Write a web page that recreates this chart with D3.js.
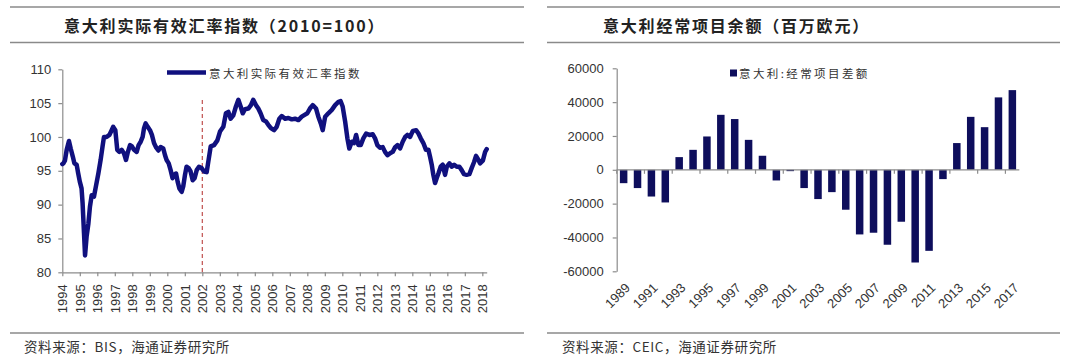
<!DOCTYPE html>
<html>
<head>
<meta charset="utf-8">
<script src="https://cdn.jsdelivr.net/npm/d3@7"></script>
<style>
  html, body { margin: 0; padding: 0; background: #fff; }
  svg { display: block; }
</style>
</head>
<body>
<svg id="chart" width="1080" height="356"></svg>
<script>
// ---------- Data ----------
const leftTitle = "意大利实际有效汇率指数（2010=100）";
const leftLegend = "意大利实际有效汇率指数";
const leftSource = "资料来源：BIS，海通证券研究所";
const rightTitle = "意大利经常项目余额（百万欧元）";
const rightLegend = "意大利:经常项目差额";
const rightSource = "资料来源：CEIC，海通证券研究所";

const reerDates = [
  1994.00,1994.06,1994.15,1994.25,1994.38,1994.48,1994.60,1994.69,1994.82,1994.91,
  1995.00,1995.10,1995.16,1995.24,1995.30,1995.39,1995.49,1995.58,1995.68,1995.81,1995.92,
  1996.06,1996.19,1996.30,1996.38,1996.53,1996.69,1996.82,1996.91,
  1997.03,1997.14,1997.26,1997.39,1997.52,1997.64,1997.75,1997.87,1997.98,
  1998.10,1998.25,1998.36,1998.48,1998.59,1998.67,1998.76,1998.88,
  1999.01,1999.12,1999.24,1999.35,1999.49,1999.62,1999.77,1999.87,1999.96,
  2000.08,2000.19,2000.30,2000.38,2000.50,2000.59,2000.69,2000.82,2000.91,
  2001.01,2001.10,2001.22,2001.33,2001.45,2001.56,2001.68,2001.81,2001.96,
  2002.10,2002.25,2002.34,2002.48,2002.67,2002.86,
  2003.01,2003.20,2003.35,2003.49,2003.62,2003.77,2003.92,
  2004.06,2004.19,2004.31,2004.44,2004.63,2004.78,2004.91,
  2005.07,2005.20,2005.33,2005.48,2005.64,2005.77,2005.92,
  2006.10,2006.25,2006.40,2006.54,2006.73,2006.92,
  2007.11,2007.30,2007.49,2007.68,2007.87,
  2008.00,2008.15,2008.31,2008.50,2008.63,2008.77,2008.88,
  2009.02,2009.20,2009.40,2009.59,2009.78,2009.90,
  2010.02,2010.16,2010.29,2010.40,2010.54,2010.67,2010.79,2010.92,
  2011.05,2011.20,2011.36,2011.55,2011.74,2011.87,
  2012.00,2012.15,2012.31,2012.44,2012.58,2012.73,2012.88,
  2013.02,2013.15,2013.30,2013.45,2013.59,2013.72,2013.87,
  2014.03,2014.22,2014.35,2014.48,2014.63,2014.78,2014.92,
  2015.01,2015.11,2015.20,2015.30,2015.39,2015.49,2015.62,2015.74,2015.87,2015.97,
  2016.12,2016.25,2016.39,2016.54,2016.69,2016.82,2016.95,
  2017.10,2017.26,2017.39,2017.53,2017.64,2017.78,2017.87,
  2018.03,2018.16,2018.25
];
const reerValues = [
  96.0,96.1,96.5,98.1,99.4,98.3,97.1,96.1,95.9,94.6,
  93.4,92.4,90.2,85.8,82.5,85.3,87.2,89.7,91.4,91.2,92.7,
  94.6,96.6,98.6,100.0,100.0,100.3,101.0,101.5,
  101.0,98.1,97.8,98.1,97.6,96.6,97.8,98.8,98.6,
  98.1,97.8,98.8,99.3,100.0,101.3,102.0,101.5,
  101.0,100.3,99.1,98.5,98.0,98.5,98.3,97.3,96.6,
  96.1,95.1,93.9,94.4,94.6,93.4,92.4,91.9,92.7,
  94.4,95.6,95.4,94.9,93.6,93.9,95.1,95.6,95.4,
  94.9,94.8,96.3,98.6,98.8,99.5,
  100.8,101.5,103.5,103.7,102.7,103.2,104.5,
  105.5,104.5,103.5,104.1,104.2,104.7,105.5,
  104.7,104.2,103.5,102.5,102.3,101.8,101.3,
  101.0,101.5,102.7,103.1,102.7,102.8,
  102.6,102.7,102.5,103.0,103.3,
  103.5,104.2,104.7,104.2,103.0,102.0,101.0,
  103.0,103.5,104.0,104.7,105.2,105.3,
  104.5,102.3,99.8,98.3,99.3,99.1,100.3,98.8,
  98.8,99.8,100.5,100.3,100.4,99.8,
  98.8,98.4,98.5,97.8,97.3,97.6,97.8,
  98.5,98.8,98.3,99.3,100.0,100.3,100.0,
  100.9,101.0,100.5,99.8,99.1,98.1,98.1,
  97.1,95.9,94.4,93.2,93.9,94.6,95.6,95.9,94.4,95.6,
  96.1,95.6,95.9,95.6,95.6,95.1,94.5,
  94.4,94.5,95.4,96.3,97.2,96.6,96.1,
  96.5,97.8,98.2
];
const leftYTicks = [80, 85, 90, 95, 100, 105, 110];
const leftXTicks = d3.range(1994, 2019);
const markerYear = 2002;

const caYears = d3.range(1989, 2018);
const caValues = [
  -7900,-10800,-15800,-19300,7500,11800,19700,32500,30000,17700,8300,
  -6300,-800,-10800,-17300,-13200,-23600,-38200,-37200,-44300,-30700,
  -54800,-47900,-5500,15800,31300,25200,42800,47100
];
const rightYTicks = [-60000, -40000, -20000, 0, 20000, 40000, 60000];
const rightXLabels = caYears.filter((d, i) => i % 2 === 0);

// ---------- Styles ----------
const lineColor = "#10107e";
const barColor = "#0e0e5c";
const axisColor = "#8c8c8c";
const textColor = "#333";
const ruleColor = "#8a8a8a";
const numFont = "'Liberation Sans', Arial, sans-serif";
const cjkFont = "'Noto Sans CJK SC', 'Noto Sans', sans-serif";

const svg = d3.select("#chart");
svg.append("rect").attr("width", 1080).attr("height", 356).attr("fill", "#fff");

function frame(x0, x1, title, tx, source, sx) {
  [7, 42.5, 333].forEach(y => {
    svg.append("line").attr("x1", x0).attr("x2", x1).attr("y1", y).attr("y2", y)
      .attr("stroke", ruleColor).attr("stroke-width", 1.6);
  });
  svg.append("text").attr("x", tx).attr("y", 25).attr("dominant-baseline", "central")
    .attr("font-family", cjkFont).attr("font-weight", "bold").attr("font-size", 16)
    .attr("letter-spacing", 1.8).attr("fill", "#222").text(title);
  svg.append("text").attr("x", sx).attr("y", 346).attr("dominant-baseline", "central")
    .attr("font-family", cjkFont).attr("font-size", 13.5).attr("letter-spacing", 0.6)
    .attr("fill", textColor).text(source);
}
frame(10, 524, leftTitle, 64, leftSource, 24);
frame(547, 1060, rightTitle, 603, rightSource, 562);

function styleAxis(g) {
  g.select(".domain").attr("stroke", axisColor).attr("stroke-width", 1.2);
  g.selectAll(".tick line").attr("stroke", axisColor).attr("stroke-width", 1.2);
  g.selectAll(".tick text").attr("fill", textColor).attr("font-family", numFont).attr("font-size", 13);
}

// ---------- Left chart ----------
const lx = d3.scaleLinear().domain([1994, 2018.25]).range([62.3, 486.7]);
const ly = d3.scaleLinear().domain([80, 110]).range([272.3, 69.3]);

const gLY = svg.append("g").attr("transform", `translate(${lx(1994)},0)`)
  .call(d3.axisLeft(ly).tickValues(leftYTicks).tickSize(4).tickSizeOuter(0).tickPadding(7).tickFormat(d3.format("d")));
styleAxis(gLY);

const gLX = svg.append("g").attr("transform", `translate(0,${ly(80)})`)
  .call(d3.axisBottom(lx).tickValues(leftXTicks).tickSize(4).tickSizeOuter(0).tickFormat(d3.format("d")));
styleAxis(gLX);
gLX.selectAll(".tick text")
  .attr("text-anchor", "end")
  .attr("transform", "translate(0,12) rotate(-90)")
  .attr("x", 0).attr("y", 0).attr("dy", "0.35em");

svg.append("line")
  .attr("x1", lx(markerYear)).attr("x2", lx(markerYear))
  .attr("y1", 100).attr("y2", ly(80))
  .attr("stroke", "#c0504d").attr("stroke-width", 1.2).attr("stroke-dasharray", "4,3");

const reer = reerDates.map((d, i) => [d, reerValues[i]]);
svg.append("path").datum(reer)
  .attr("fill", "none").attr("stroke", lineColor).attr("stroke-width", 4.5)
  .attr("stroke-linejoin", "round").attr("stroke-linecap", "round")
  .attr("d", d3.line().x(d => lx(d[0])).y(d => ly(d[1])));

svg.append("line").attr("x1", 167).attr("x2", 206).attr("y1", 72.5).attr("y2", 72.5)
  .attr("stroke", lineColor).attr("stroke-width", 4.5);
svg.append("text").attr("x", 209).attr("y", 72.5).attr("dominant-baseline", "central")
  .attr("font-family", cjkFont).attr("font-size", 11.5).attr("letter-spacing", 2.4)
  .attr("fill", textColor).text(leftLegend);

// ---------- Right chart ----------
const rx = d3.scaleBand().domain(caYears).range([616.7, 1019.3]).paddingInner(0.46).paddingOuter(0.23);
const rxb = d3.scaleBand().domain(caYears).range([616.7, 1019.3]).padding(0);
const ry = d3.scaleLinear().domain([-60000, 60000]).range([271.3, 68.3]);

const gRY = svg.append("g").attr("transform", `translate(616.7,0)`)
  .call(d3.axisLeft(ry).tickValues(rightYTicks).tickSize(4).tickSizeOuter(0).tickPadding(9).tickFormat(d => String(d)));
styleAxis(gRY);

svg.append("g").selectAll("rect").data(caYears).join("rect")
  .attr("x", d => rx(d))
  .attr("width", rx.bandwidth())
  .attr("y", (d, i) => ry(Math.max(0, caValues[i])))
  .attr("height", (d, i) => Math.abs(ry(caValues[i]) - ry(0)))
  .attr("fill", barColor);

// zero axis with ticks at category boundaries every 2 categories
const zeroY = ry(0);
svg.append("line").attr("x1", 616.7).attr("x2", 1019.3).attr("y1", zeroY).attr("y2", zeroY)
  .attr("stroke", axisColor).attr("stroke-width", 1.2);
svg.append("g").selectAll("line").data(rightXLabels).join("line")
  .attr("x1", d => rxb(d)).attr("x2", d => rxb(d))
  .attr("y1", zeroY).attr("y2", zeroY + 4)
  .attr("stroke", axisColor).attr("stroke-width", 1.2);

svg.append("g").selectAll("text").data(rightXLabels).join("text")
  .attr("transform", d => `translate(${rxb(d) + rxb.bandwidth() / 2 + 4},${ry(-60000) + 14}) rotate(-45)`)
  .attr("text-anchor", "end")
  .attr("dy", "0.35em")
  .attr("font-family", numFont).attr("font-size", 13).attr("fill", textColor)
  .text(d => d);

svg.append("rect").attr("x", 730).attr("y", 69.5).attr("width", 7).attr("height", 7).attr("fill", barColor);
svg.append("text").attr("x", 739).attr("y", 73).attr("dominant-baseline", "central")
  .attr("font-family", cjkFont).attr("font-size", 11.5).attr("letter-spacing", 2.4)
  .attr("fill", textColor).text(rightLegend);
</script>
</body>
</html>
